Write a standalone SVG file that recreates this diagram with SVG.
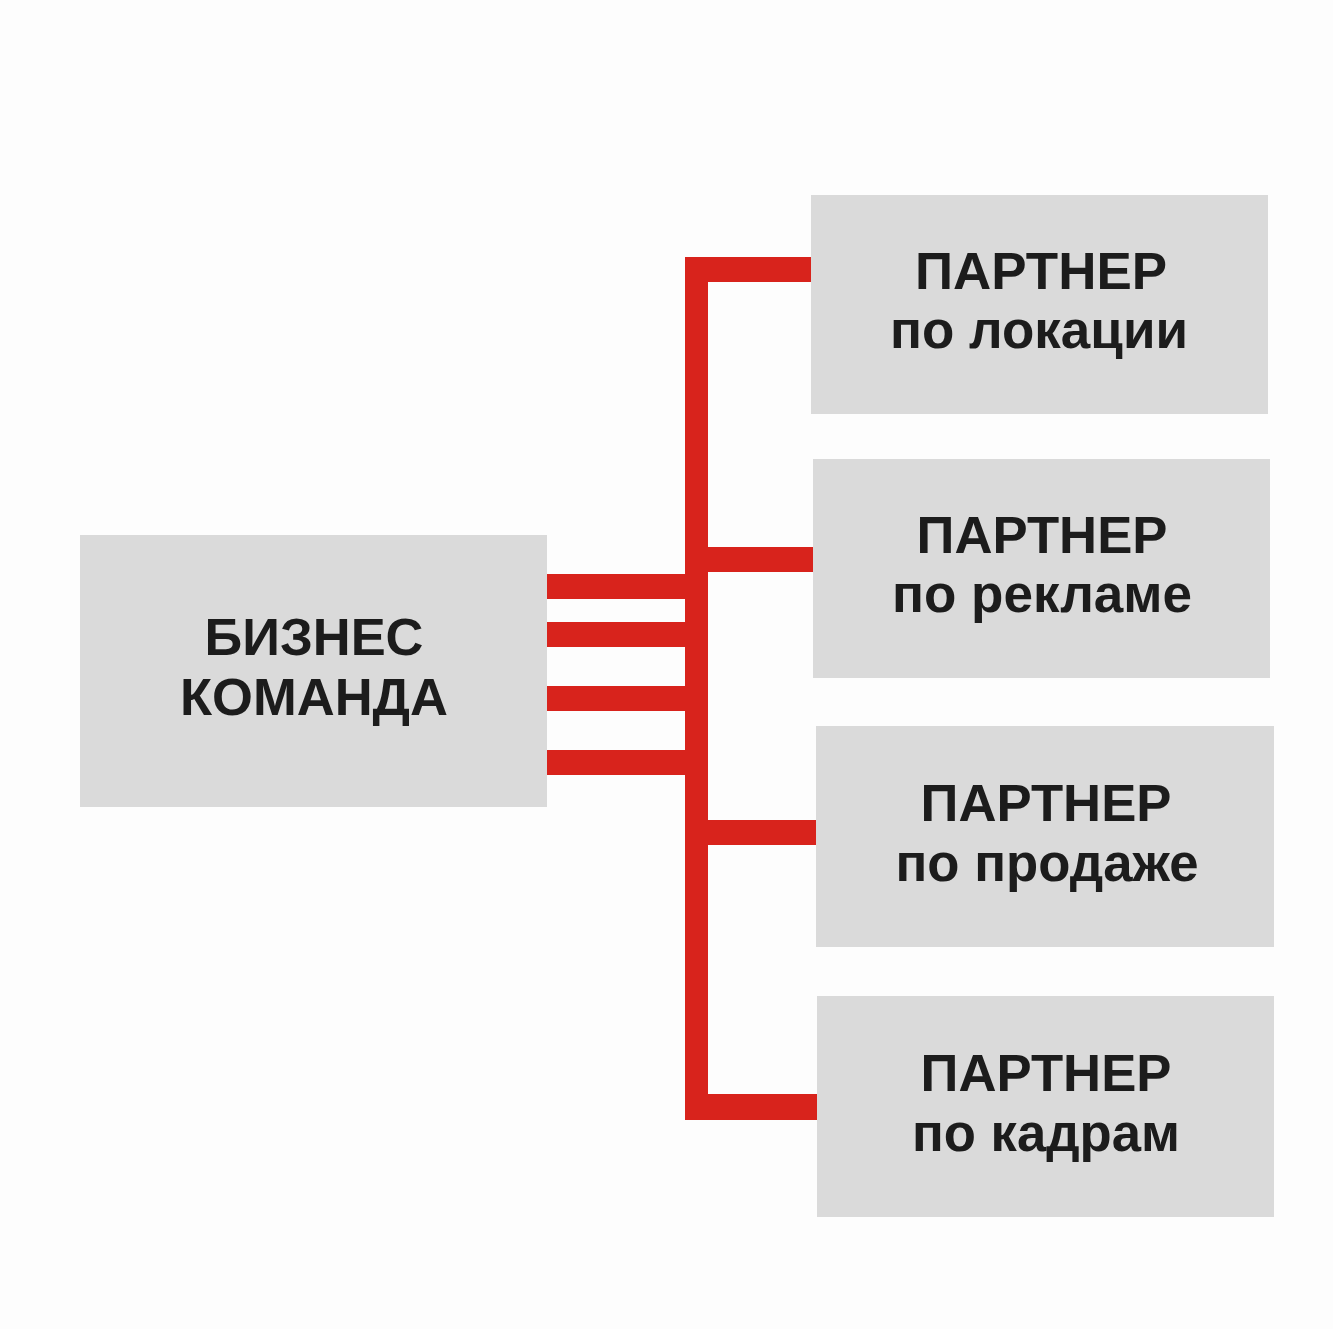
<svg xmlns="http://www.w3.org/2000/svg" width="1333" height="1329" viewBox="0 0 1333 1329">
<style>
.box{fill:#dadada}
.t{font-family:"Liberation Sans",Arial,sans-serif;font-weight:bold;font-size:51px;fill:#1c1c1c;text-anchor:middle}
.l{font-size:52px}
.r{fill:#d8231c}
</style>
<rect width="1333" height="1329" fill="#fdfdfd"/>
<g id="connectors">
<rect class="r" x="685" y="257" width="23" height="863"/>
<rect class="r" x="685" y="257" width="126" height="25"/>
<rect class="r" x="685" y="547" width="129" height="25"/>
<rect class="r" x="685" y="820" width="132" height="25"/>
<rect class="r" x="685" y="1094" width="132" height="26"/>
<rect class="r" x="547" y="574" width="150" height="25"/>
<rect class="r" x="547" y="622" width="150" height="25"/>
<rect class="r" x="547" y="686" width="150" height="25"/>
<rect class="r" x="547" y="750" width="150" height="25"/>
</g>
<g id="node-business">
<rect class="box" x="80" y="535" width="467" height="272"/>
<text class="t l" x="314" y="655" textLength="219" lengthAdjust="spacingAndGlyphs">БИЗНЕС</text>
<text class="t l" x="314" y="715" textLength="268" lengthAdjust="spacingAndGlyphs">КОМАНДА</text>
</g>
<g id="node-location">
<rect class="box" x="811" y="195" width="457" height="219"/>
<text class="t" x="1041" y="289" textLength="252" lengthAdjust="spacingAndGlyphs">ПАРТНЕР</text>
<text class="t" x="1039" y="348" textLength="298" lengthAdjust="spacingAndGlyphs">по локации</text>
</g>
<g id="node-ads">
<rect class="box" x="813" y="459" width="457" height="219"/>
<text class="t" x="1042" y="553" textLength="251" lengthAdjust="spacingAndGlyphs">ПАРТНЕР</text>
<text class="t" x="1042" y="612" textLength="300" lengthAdjust="spacingAndGlyphs">по рекламе</text>
</g>
<g id="node-sales">
<rect class="box" x="816" y="726" width="458" height="221"/>
<text class="t" x="1046" y="821" textLength="251" lengthAdjust="spacingAndGlyphs">ПАРТНЕР</text>
<text class="t" x="1047" y="881" textLength="303" lengthAdjust="spacingAndGlyphs">по продаже</text>
</g>
<g id="node-hr">
<rect class="box" x="817" y="996" width="457" height="221"/>
<text class="t" x="1046" y="1091" textLength="251" lengthAdjust="spacingAndGlyphs">ПАРТНЕР</text>
<text class="t" x="1046" y="1151" textLength="268" lengthAdjust="spacingAndGlyphs">по кадрам</text>
</g>
</svg>
